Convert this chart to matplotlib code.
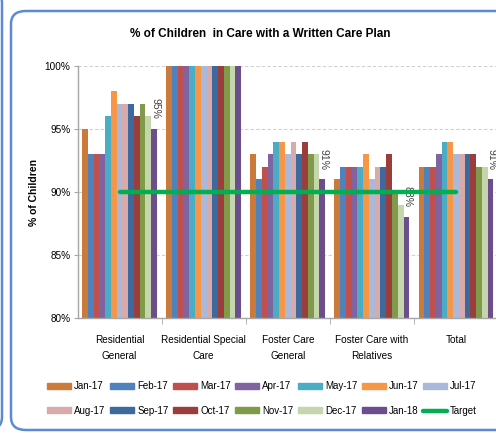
import numpy as np
import matplotlib
matplotlib.use('Agg')
import matplotlib.pyplot as plt
from matplotlib.patches import FancyBboxPatch, Patch
from matplotlib.lines import Line2D

plt.rcParams['font.family'] = ['Liberation Sans Narrow', 'Liberation Sans', 'DejaVu Sans']

categories = ['Residential\nGeneral', 'Residential Special\nCare', 'Foster Care\nGeneral',
              'Foster Care with\nRelatives', 'Total']
months = ['Jan-17', 'Feb-17', 'Mar-17', 'Apr-17', 'May-17', 'Jun-17', 'Jul-17',
          'Aug-17', 'Sep-17', 'Oct-17', 'Nov-17', 'Dec-17', 'Jan-18']
# % per month, one list per category
res_general = [95, 93, 93, 93, 96, 98, 97, 97, 97, 96, 97, 96, 95]
res_special = [100, 100, 100, 100, 100, 100, 100, 100, 100, 100, 100, 100, 100]
foster_general = [93, 91, 92, 93, 94, 94, 93, 94, 93, 94, 93, 93, 91]
foster_relatives = [91, 92, 92, 92, 92, 93, 91, 92, 92, 93, 90, 89, 88]
total = [92, 92, 92, 93, 94, 94, 93, 93, 93, 93, 92, 92, 91]
target = [90, 90, 90, 90, 90]

colors = ['#CC7A3A', '#4F81BD', '#C0504D', '#8064A2', '#4BACC6', '#F79646', '#AAB9D9',
          '#D9AAAA', '#3D6A9E', '#9B3D3B', '#7F9A48', '#C6D6AC', '#6B4E8B']

vals = np.array([res_general, res_special, foster_general, foster_relatives, total])
x = np.arange(len(categories))
n = len(months)
bw = 0.89 / n

fig = plt.figure(figsize=(4.96, 4.33), dpi=100)
fig.patch.set_facecolor('white')

# chart border (rounded) and edge of neighbouring chart
fig.add_artist(FancyBboxPatch((11 / 496, 3 / 433), 500 / 496, 419 / 433,
                              boxstyle='round,pad=0,rounding_size=0.03',
                              transform=fig.transFigure, fc='none', ec='#5B8BD5', lw=1.8))
fig.add_artist(FancyBboxPatch((-40 / 496, 3 / 433), 42 / 496, 440 / 433,
                              boxstyle='round,pad=0,rounding_size=0.03',
                              transform=fig.transFigure, fc='none', ec='#5B8BD5', lw=1.8))

ax = fig.add_axes([77.5 / 496, 115 / 433, 420.5 / 496, 252 / 433])
for i, m in enumerate(months):
    xs = x - 0.445 + bw * (i + 0.5)
    ax.bar(xs, vals[:, i], width=bw, color=colors[i], label=m, zorder=2)

# data labels for last month
last = vals[:, -1]
for xi, v in zip(x, last):
    if v >= 100:
        continue
    ax.annotate(f'{v}%', (xi + 0.445 - bw / 2, v), xytext=(1, 7), textcoords='offset points',
                rotation=270, ha='center', va='bottom', fontsize=7.5, color='#404040')

ax.plot(x, target, color='#00B050', lw=3.2, solid_capstyle='round', zorder=3)

ax.set_ylim(80, 100)
ax.set_xlim(-0.5, len(categories) - 0.5)
ax.set_yticks([80, 85, 90, 95, 100])
ax.set_yticklabels([f'{t}%' for t in [80, 85, 90, 95, 100]], fontsize=7.2)
ax.yaxis.grid(True, color='#D0D0D0', ls=(0, (3, 2)), lw=0.8, zorder=0)
ax.set_axisbelow(True)
ax.set_xticks(x)
ax.set_xticklabels(categories, fontsize=7.2, linespacing=1.8)
ax.set_xticks(np.arange(len(categories)) + 0.5, minor=True)
ax.tick_params(axis='x', which='major', length=0, pad=12)
ax.tick_params(axis='x', which='minor', length=4, color='#A6A6A6')
ax.tick_params(axis='y', length=3, color='#A6A6A6', pad=2)
for s in ['top', 'right']:
    ax.spines[s].set_visible(False)
for s in ['left', 'bottom']:
    ax.spines[s].set_color('#A6A6A6')
    ax.spines[s].set_linewidth(1.0)
ax.set_ylabel('% of Children', fontsize=7.5, fontweight='bold', labelpad=4)

fig.text(260 / 496, 1 - 34 / 433, '% of Children  in Care with a Written Care Plan',
         ha='center', va='center', fontsize=8.5, fontweight='bold')

handles = [Patch(color=c, label=m) for c, m in zip(colors, months)]
handles.append(Line2D([], [], color='#00B050', lw=3.2, solid_capstyle='round', label='Target'))
# legend fills column-wise; reorder so it reads row by row
ordered = []
for c in range(7):
    ordered += [handles[c], handles[c + 7]]
fig.legend(handles=ordered, loc='center', bbox_to_anchor=(262 / 496, 1 - 398.5 / 433),
           ncol=7, frameon=False, fontsize=7.0, handlelength=2.5, handleheight=0.6,
           handletextpad=0.3, columnspacing=0.45, labelspacing=1.5)

fig.savefig('out.png', dpi=100, facecolor='white')
